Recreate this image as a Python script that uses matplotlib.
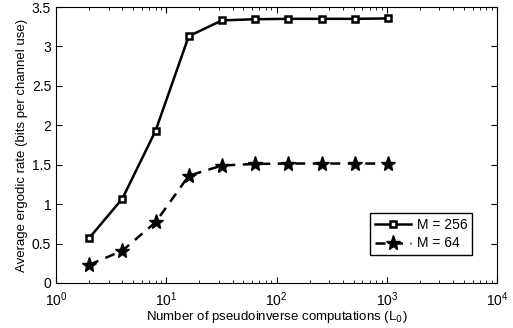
import matplotlib
matplotlib.use("Agg")
import matplotlib.pyplot as plt
import numpy as np

plt.rcParams['font.family'] = ['Liberation Sans', 'DejaVu Sans']

L0 = [2, 4, 8, 16, 32, 64, 128, 256, 512, 1024]
rate_M256 = [0.57, 1.07, 1.93, 3.13, 3.33, 3.345, 3.35, 3.35, 3.35, 3.355]
rate_M64 = [0.23, 0.41, 0.77, 1.36, 1.49, 1.51, 1.515, 1.515, 1.515, 1.515]
labels = ['M = 256', 'M = 64']

fig = plt.figure(figsize=(5.13, 3.28), dpi=100)
ax = fig.add_axes([56/513, 1-283/328, (497-56)/513, (283-7)/328])

ax.plot(L0, rate_M256, '-', color='black', lw=1.8, marker='s', ms=5,
        mfc='white', mec='black', mew=1.8, label=labels[0])
ax.plot(L0, rate_M64, '--', color='black', lw=1.8, marker='*', ms=11,
        mfc='black', mec='black', label=labels[1], dashes=(4, 3))

ax.set_xscale('log')
ax.set_xlim(1, 1e4)
ax.set_ylim(0, 3.5)
ax.set_yticks(np.arange(0, 3.51, 0.5))
ax.set_yticklabels(['0', '0.5', '1', '1.5', '2', '2.5', '3', '3.5'])
ax.tick_params(which='both', direction='in', top=True, right=True, labelsize=10)
ax.tick_params(axis='x', pad=5)
ax.tick_params(which='major', length=4)
ax.tick_params(which='minor', length=2)
for s in ax.spines.values():
    s.set_linewidth(0.8)
ax.set_xlabel('Number of pseudoinverse computations (L$_0$)', fontsize=9.5, labelpad=0)
ax.set_ylabel('Average ergodic rate (bits per channel use)', fontsize=9.5, labelpad=3)
leg = ax.legend(loc='lower right', fontsize=10, fancybox=False, framealpha=1,
                edgecolor='black', handlelength=2.6, borderpad=0.35,
                handletextpad=0.4, labelspacing=0.3,
                bbox_to_anchor=(0.96, 0.075))
leg.get_frame().set_linewidth(1.0)

fig.savefig('out.png', dpi=100)
